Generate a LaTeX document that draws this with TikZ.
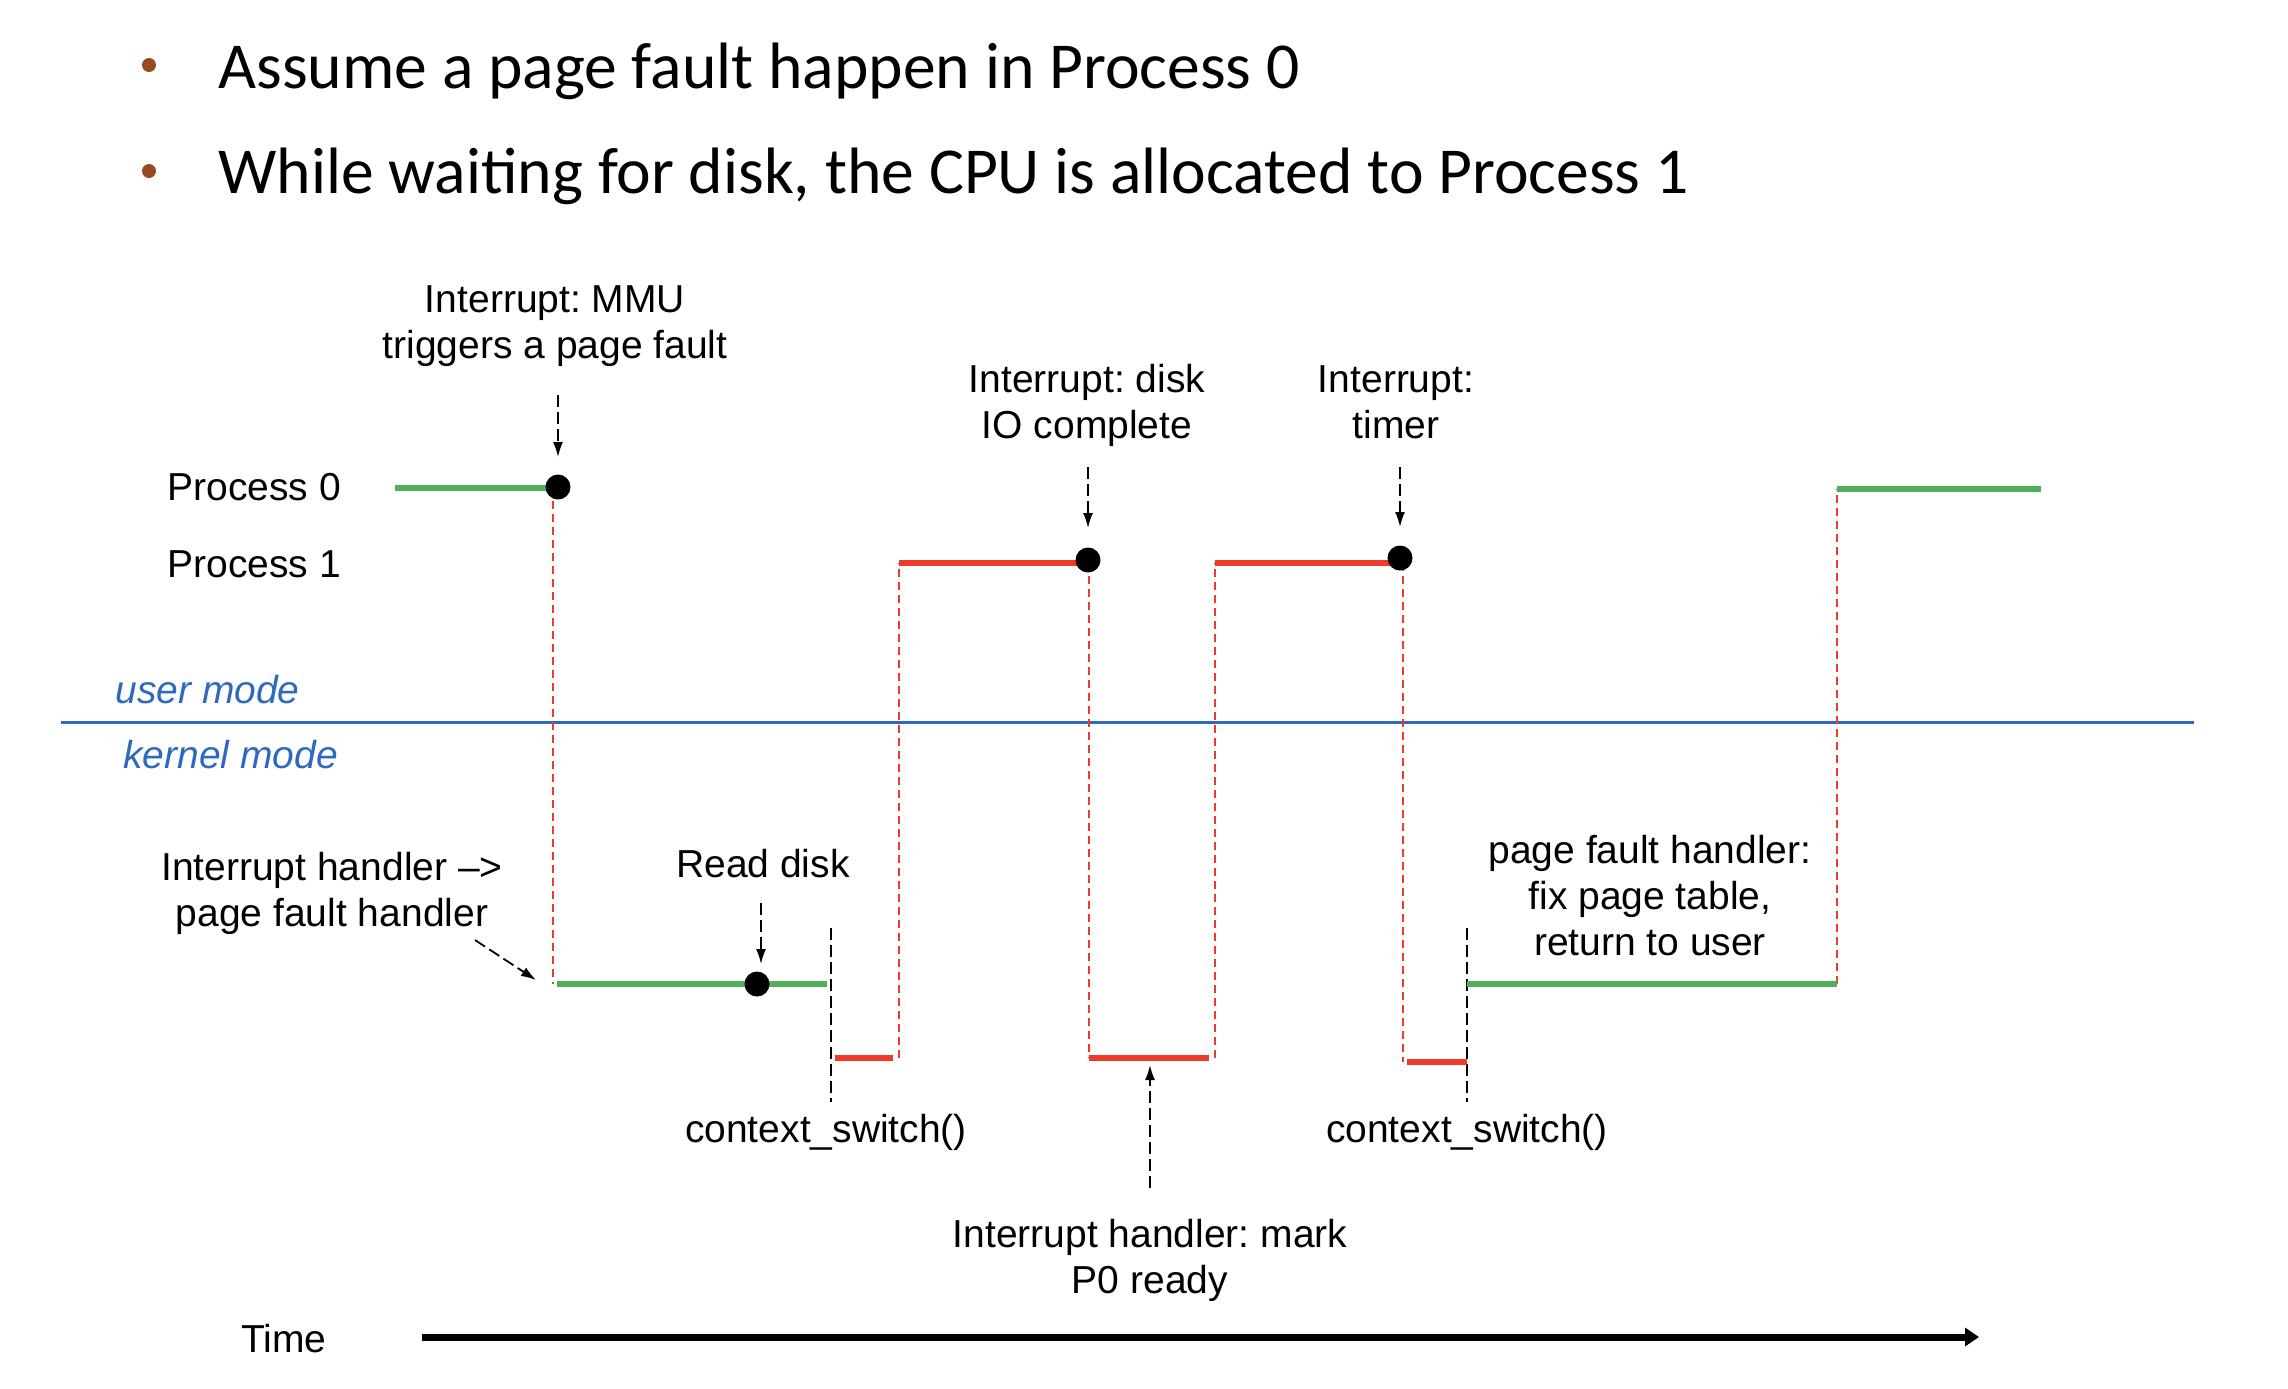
\documentclass[tikz,border=0pt]{standalone}
\usepackage{fontspec}
\setmainfont{Liberation Sans}
\newfontfamily\headfont{Carlito}
\usetikzlibrary{arrows.meta}
\definecolor{pgreen}{HTML}{50AE5C}
\definecolor{pred}{HTML}{EE3B2B}
\definecolor{mblue}{HTML}{2F69BF}
\definecolor{bulletc}{HTML}{9A4A1F}
\frenchspacing
\begin{document}
\begin{tikzpicture}[x=0.5pt,y=-0.5pt,
  lbl/.style={inner sep=0, anchor=base, font=\fontsize{19.5}{23}\selectfont, align=center},
  head/.style={inner sep=0, anchor=base west, font=\headfont\fontsize{32.8}{38}\selectfont},
  plabel/.style={inner sep=0, anchor=base west, font=\fontsize{19.5}{23}\selectfont},
  modetxt/.style={inner sep=0, anchor=base west, text=mblue, font=\fontsize{19.5}{23}\selectfont\itshape},
  dot/.style={circle, fill=black, inner sep=0, minimum size=12.5pt},
  bul/.style={circle, fill=bulletc, inner sep=0, minimum size=7pt},
  gseg/.style={line width=3pt, pgreen},
  rseg/.style={line width=3pt, pred},
  rdash/.style={pred, line width=0.9pt, dash pattern=on 4pt off 2.5pt},
  kdash/.style={black, line width=0.9pt, dash pattern=on 6pt off 2.5pt},
  karrow/.style={kdash, -{Latex[length=7.5pt,width=5pt]}},
  modeline/.style={mblue, line width=1.5pt}
]
\useasboundingbox (0,0) rectangle (2288,1388);

% headings
\node[bul] (b1) at (149,65) {};
\node[bul] (b2) at (149,171) {};
\node[head] (h1) at (218,88) {Assume a page fault happen in Process 0};
\node[head] (h2) at (218,193) {While waiting for disk, the CPU is allocated to Process 1};

% row labels
\node[plabel] (p0) at (167,500) {Process 0};
\node[plabel] (p1) at (167,577) {Process 1};
\node[modetxt] (um) at (115,703) {user mode};
\node[modetxt] (km) at (123,768) {kernel mode};
\node[plabel] (time) at (241,1352) {Time};

% mode line
\coordinate (ml) at (61,722);
\coordinate (mr) at (2194,722);
\draw[modeline] (ml) -- (mr);

% timeline key points
\coordinate (g1a) at (395,488);
\coordinate (g1b) at (553,488);
\coordinate (g2a) at (553,984);
\coordinate (g2b) at (827,984);
\coordinate (r1a) at (835,1058);
\coordinate (r1b) at (899,1058);
\coordinate (r2a) at (899,563);
\coordinate (r2b) at (1089,563);
\coordinate (r3a) at (1089,1058);
\coordinate (r3b) at (1215,1058);
\coordinate (r4a) at (1215,563);
\coordinate (r4b) at (1403,563);
\coordinate (r5a) at (1403,1062);
\coordinate (r5b) at (1467,1062);
\coordinate (g3a) at (1467,984);
\coordinate (g3b) at (1837,984);
\coordinate (g4a) at (1837,489);
\coordinate (g4b) at (2041,489);

% red dashed transitions
\draw[rdash] (g1b) -- (g2a);
\draw[rdash] (r1b) -- (r2a);
\draw[rdash] (r2b) -- (r3a);
\draw[rdash] (r3b) -- (r4a);
\draw[rdash] (r4b) -- (r5a);
\draw[rdash] (g3b) -- (g4a);

% context switch markers
\coordinate (cs1t) at (831,928);
\coordinate (cs1b) at (831,1102);
\coordinate (cs2t) at (1467,928);
\coordinate (cs2b) at (1467,1102);
\draw[kdash] (cs1t) -- (cs1b);
\draw[kdash] (cs2t) -- (cs2b);

% segments
\draw[gseg] (g1a) -- (g1b);
\draw[gseg] ([xshift=2]g2a) -- (g2b);
\draw[rseg] (r1a) -- ([xshift=-3]r1b);
\draw[rseg] (r2a) -- (r2b);
\draw[rseg] (r3a) -- ([xshift=-3]r3b);
\draw[rseg] (r4a) -- (r4b);
\draw[rseg] ([xshift=2]r5a) -- (r5b);
\draw[gseg] (g3a) -- (g3b);
\draw[gseg] (g4a) -- (g4b);

% dots
\node[dot] (d1) at (558,487) {};
\node[dot] (d2) at (757,984) {};
\node[dot] (d3) at (1088,560) {};
\node[dot] (d4) at (1400,558) {};

% labels (base = last line's baseline)
\node[lbl] (l1) at (555,358) {Interrupt: MMU\\triggers a page fault};
\node[lbl] (l2) at (1087,438) {Interrupt: disk\\IO complete};
\node[lbl] (l3) at (1396,438) {Interrupt:\\timer};
\node[lbl] (l4) at (763,877) {Read disk};
\node[lbl] (l5) at (332,926) {Interrupt handler –>\\page fault handler};
\node[lbl] (l6) at (1150,1293) {Interrupt handler: mark\\P0 ready};
\node[lbl] (l7) at (1650,955) {page fault handler:\\fix page table,\\return to user};
\node[lbl] (cs1) at (826,1142) {context\_switch()};
\node[lbl] (cs2) at (1467,1142) {context\_switch()};

% annotation arrows
\coordinate (a1s) at (558,395);
\coordinate (a1e) at (558,457);
\coordinate (a2s) at (1088,467);
\coordinate (a2e) at (1088,528);
\coordinate (a3s) at (1400,467);
\coordinate (a3e) at (1400,527);
\coordinate (a4s) at (761,903);
\coordinate (a4e) at (761,964);
\coordinate (a5s) at (475,940);
\coordinate (a5e) at (536,980);
\coordinate (a6s) at (1150,1188);
\coordinate (a6e) at (1150,1065);
\draw[karrow] (a1s) -- (a1e);
\draw[karrow] (a2s) -- (a2e);
\draw[karrow] (a3s) -- (a3e);
\draw[karrow] (a4s) -- (a4e);
\draw[karrow] (a5s) -- (a5e);
\draw[karrow] (a6s) -- (a6e);

% time arrow
\coordinate (ts) at (422,1337);
\coordinate (te) at (1979,1337);
\draw[line width=3.5pt, -{Triangle[length=7pt,width=9pt]}] (ts) -- (te);
\end{tikzpicture}
\end{document}
